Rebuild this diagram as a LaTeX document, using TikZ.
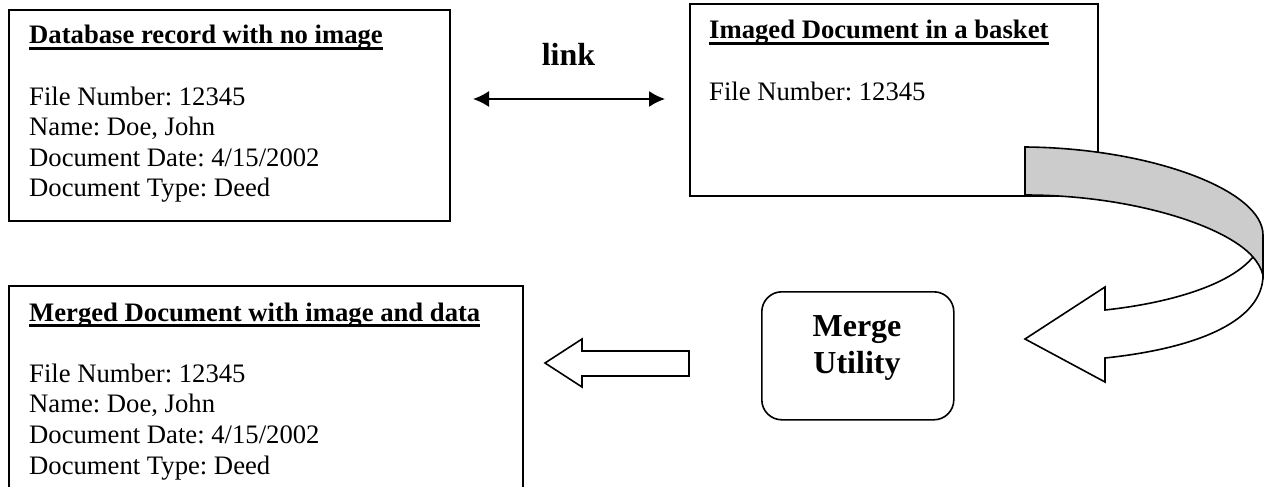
\documentclass[tikz,border=0pt]{standalone}
\usepackage{fontspec}
\setmainfont{Liberation Serif}
\usetikzlibrary{arrows.meta}
\frenchspacing
\newcommand\ulin[1]{\setbox0\hbox{#1}\rlap{\rule[-5.8pt]{\wd0}{2.8pt}}\box0}
\tikzset{
  x=1pt,y=-1pt,
  boxr/.style={draw=black,line width=2pt,fill=white,rectangle,inner sep=0pt,anchor=north west},
  body/.style={anchor=base west,inner sep=0pt,font=\fontsize{26.67}{30}\selectfont},
  ttl/.style={anchor=base west,inner sep=0pt,font=\fontsize{26.67}{30}\selectfont\bfseries},
  big/.style={anchor=base,inner sep=0pt,font=\fontsize{32}{36}\selectfont\bfseries},
  outl/.style={draw=black,line width=1.6pt,line join=miter},
}
\begin{document}
\begin{tikzpicture}
\useasboundingbox (0,0) rectangle (1269,487);
\node[boxr,minimum width=441pt,minimum height=211pt] (dbbox) at (8,9) {};
\node[boxr,line width=1.6pt,minimum width=408pt,minimum height=192pt] (imgbox) at (689,3) {};
\node[boxr,minimum width=514pt,minimum height=240pt] (mergedbox) at (8,285) {};
\node[ttl] (t1) at (29,44) {\ulin{Database record with no image}};
\node[body] (a1) at (29,105) {File Number: 12345};
\node[body] (a2) at (29,135.7) {Name: Doe, John};
\node[body] (a3) at (29,166) {Document Date: 4/15/2002};
\node[body] (a4) at (29,196.7) {Document Type: Deed};
\node[ttl] (t2) at (709,39) {\ulin{Imaged Document in a basket}};
\node[body] (b1) at (709,100) {File Number: 12345};
\node[ttl] (t3) at (29,321) {\ulin{Merged Document with image and data}};
\node[body] (c1) at (29,382) {File Number: 12345};
\node[body] (c2) at (29,412.7) {Name: Doe, John};
\node[body] (c3) at (29,443.4) {Document Date: 4/15/2002};
\node[body] (c4) at (29,474) {Document Type: Deed};
\node[anchor=base,inner sep=0pt,font=\fontsize{32}{36}\selectfont\bfseries] (lnk) at (568.5,66) {link};
\coordinate (la) at (473,99);
\coordinate (lb) at (665,99);
\draw[line width=1.6pt,{Latex[length=16pt,width=16pt]}-{Latex[length=16pt,width=16pt]}] (la) -- (lb);
\node[draw=black,line width=1.6pt,rectangle,rounded corners=20pt,minimum width=192pt,minimum height=128pt,inner sep=0pt,anchor=north west] (mu) at (761,291) {};
\node[big] (m1) at (857,336) {Merge};
\node[big] (m2) at (857,373) {Utility};
% left block arrow
\draw[outl,fill=white] (689,351) -- (582,351) -- (582,339) -- (545,363) -- (582,387) -- (582,376) -- (689,376) -- cycle;
% curved arrow
\draw[outl,fill=white] (1253,257) .. controls (1230,285) and (1170,303) .. (1105,310)
  -- (1105,287) -- (1025,339) -- (1105,382) -- (1105,358)
  .. controls (1200,348) and (1263,320) .. (1263,275)
  .. controls (1263,268) and (1259,263) .. (1253,257) -- cycle;
\draw[outl,fill=black!20] (1025,147) .. controls (1150,148) and (1263,190) .. (1263,235)
  -- (1263,275) .. controls (1261,268) and (1258,263) .. (1253,257)
  .. controls (1225,225) and (1130,195) .. (1025,195) -- cycle;
\end{tikzpicture}
\end{document}
